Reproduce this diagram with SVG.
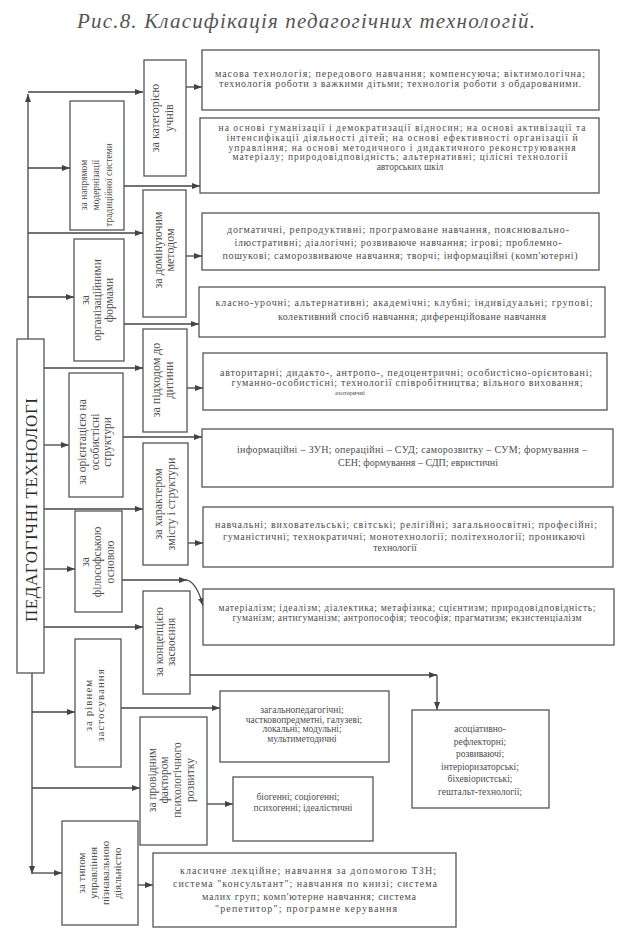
<svg xmlns="http://www.w3.org/2000/svg" width="625" height="935" viewBox="0 0 625 935">
<defs>
<marker id="ah" markerWidth="8" markerHeight="6" refX="8" refY="3" orient="auto" markerUnits="userSpaceOnUse"><path d="M0,0 L8,3 L0,6 z" fill="#444"/></marker>
<style>
.box{fill:#fff;stroke:#555;stroke-width:1.3}
.t{font-family:"Liberation Serif","Times New Roman",serif;fill:#4d4d4d;font-size:10px;text-anchor:middle}
.s{font-size:9.5px}
.v{font-family:"Liberation Serif","Times New Roman",serif;fill:#4d4d4d;font-size:11.5px;text-anchor:middle}
.c{fill:none;stroke:#444;stroke-width:1.3;marker-end:url(#ah)}
.title{font-family:"Liberation Serif","Times New Roman",serif;font-style:italic;fill:#555;font-size:21px}
</style>
</defs>
<rect width="625" height="935" fill="#fff"/>
<text class="title" x="77" y="28" textLength="458">Рис.8. Класифікація педагогічних технологій.</text>

<g id="connectors">
<path class="c" d="M28,339 V94"/>
<path class="c" d="M28,92 H143"/>
<path class="c" d="M28,168 H70"/>
<path class="c" d="M28,233 H143"/>
<path class="c" d="M28,297 H74"/>
<path class="c" d="M44,368 H143"/>
<path class="c" d="M44,445 H69"/>
<path class="c" d="M44,509 H143"/>
<path class="c" d="M44,569 H75"/>
<path class="c" d="M44,627 H143"/>
<path class="c" d="M32,673 V874"/>
<path class="c" d="M32,873 H62"/>
<path class="c" d="M32,712 H75"/>
<path class="c" d="M32,788 H140"/>
<path class="c" d="M186,87 H202"/>
<path class="c" d="M124,186 H200"/>
<path class="c" d="M186,256 H202"/>
<path class="c" d="M124,324 H199"/>
<path class="c" d="M187,388 H203"/>
<path class="c" d="M123,437 H202"/>
<path class="c" d="M188,543 H203"/>
<path class="c" d="M122,580 H187"/>
<path class="c" d="M187,580 Q197,583 203,606"/>
<path class="c" d="M190,675 H437"/>
<path class="c" d="M437,675 V710"/>
<path class="c" d="M121,708 H220"/>
<path class="c" d="M207,804 H233"/>
<path class="c" d="M138,885 H153"/>
</g>

<g id="root">
<rect class="box" x="17" y="339" width="27" height="334"/>
<text class="v" transform="translate(37,510) rotate(-90)" style="font-size:17px;fill:#2a2a2a" textLength="224">ПЕДАГОГІЧНІ ТЕХНОЛОГІ</text>
</g>

<g id="cat-uchniv">
<rect class="box" x="144" y="60" width="42" height="116"/>
<text class="v" transform="translate(159,118) rotate(-90)" style="font-size:12px">за категорією</text>
<text class="v" transform="translate(173,118) rotate(-90)" style="font-size:12px">учнів</text>
</g>
<g id="cat-napryam">
<rect class="box" x="70" y="101" width="54" height="129"/>
<text class="v" transform="translate(87,185) rotate(-90)" style="font-size:9.5px">за напрямом</text>
<text class="v" transform="translate(99,185) rotate(-90)" style="font-size:9.5px">модернізації</text>
<text class="v" transform="translate(112,185) rotate(-90)" style="font-size:9.5px">традиційної системи</text>
</g>
<g id="cat-metod">
<rect class="box" x="143" y="190" width="43" height="127"/>
<text class="v" transform="translate(162,250) rotate(-90)" style="font-size:12px">за домінуючим</text>
<text class="v" transform="translate(174,250) rotate(-90)" style="font-size:12px">методом</text>
</g>
<g id="cat-formy">
<rect class="box" x="74" y="239" width="50" height="122"/>
<text class="v" transform="translate(89,300) rotate(-90)">за</text>
<text class="v" transform="translate(101,300) rotate(-90)">організаційними</text>
<text class="v" transform="translate(113,300) rotate(-90)">формами</text>
</g>
<g id="cat-pidhid">
<rect class="box" x="143" y="329" width="44" height="103"/>
<text class="v" transform="translate(160,380) rotate(-90)" style="font-size:12px">за підходом до</text>
<text class="v" transform="translate(172.5,380) rotate(-90)" style="font-size:12px">дитини</text>
</g>
<g id="cat-oriient">
<rect class="box" x="69" y="373" width="54" height="124"/>
<text class="v" transform="translate(86,442) rotate(-90)">за орієнтацією на</text>
<text class="v" transform="translate(98.5,442) rotate(-90)">особистісні</text>
<text class="v" transform="translate(111,442) rotate(-90)">структури</text>
</g>
<g id="cat-zmist">
<rect class="box" x="143" y="443" width="45" height="122"/>
<text class="v" transform="translate(162,504) rotate(-90)" style="font-size:12px">за характером</text>
<text class="v" transform="translate(174.5,504) rotate(-90)" style="font-size:12px">змісту і структури</text>
</g>
<g id="cat-filos">
<rect class="box" x="75" y="511" width="47" height="101"/>
<text class="v" transform="translate(88.5,562) rotate(-90)">за</text>
<text class="v" transform="translate(101,562) rotate(-90)">філософською</text>
<text class="v" transform="translate(113.5,562) rotate(-90)">основою</text>
</g>
<g id="cat-koncep">
<rect class="box" x="143" y="591" width="47" height="103"/>
<text class="v" transform="translate(162.5,642) rotate(-90)">за концепцією</text>
<text class="v" transform="translate(175,642) rotate(-90)">засвоєння</text>
</g>
<g id="cat-riven">
<rect class="box" x="75" y="639" width="46" height="128"/>
<text class="v" transform="translate(91.5,705) rotate(-90)" style="font-size:11px;letter-spacing:1px">за рівнем</text>
<text class="v" transform="translate(104,705) rotate(-90)" style="font-size:11px;letter-spacing:1px">застосування</text>
</g>
<g id="cat-faktor">
<rect class="box" x="140" y="717" width="67" height="128"/>
<text class="v" transform="translate(155.5,780) rotate(-90)">за провідним</text>
<text class="v" transform="translate(167.5,780) rotate(-90)">фактором</text>
<text class="v" transform="translate(180.5,780) rotate(-90)">психологічного</text>
<text class="v" transform="translate(194,780) rotate(-90)">розвитку</text>
</g>
<g id="cat-upravl">
<rect class="box" x="62" y="821" width="76" height="104"/>
<text class="v" transform="translate(84.5,873) rotate(-90)" style="font-size:11px">за типом</text>
<text class="v" transform="translate(96.5,873) rotate(-90)" style="font-size:11px">управління</text>
<text class="v" transform="translate(108.5,873) rotate(-90)" style="font-size:11px">пізнавальною</text>
<text class="v" transform="translate(120.5,873) rotate(-90)" style="font-size:11px">діяльністю</text>
</g>

<g id="det-uchniv">
<rect class="box" x="202" y="50" width="397" height="60"/>
<text class="t" x="400" y="77" textLength="370">масова технологія; передового навчання; компенсуюча; віктимологічна;</text>
<text class="t" x="400" y="87" textLength="362">технологія роботи з важкими дітьми; технологія роботи з обдарованими.</text>
</g>
<g id="det-napryam">
<rect class="box" x="200" y="118" width="399" height="75"/>
<text class="t s" x="402" y="131" textLength="367">на основі гуманізації і демократизації відносин; на основі активізації та</text>
<text class="t s" x="402" y="140.75" textLength="351">інтенсифікації діяльності дітей; на основі ефективності організації й</text>
<text class="t s" x="402" y="150.5" textLength="347">управління; на основі методичного і дидактичного реконструювання</text>
<text class="t s" x="400" y="160.25" textLength="335">матеріалу; природовідповідність; альтернативні; цілісні технології</text>
<text class="t s" x="410" y="170">авторських шкіл</text>
</g>
<g id="det-metod">
<rect class="box" x="202" y="213" width="397" height="57"/>
<text class="t" x="398" y="233" textLength="342">догматичні, репродуктивні; програмоване навчання, пояснювально-</text>
<text class="t" x="398" y="246" textLength="327">ілюстративні; діалогічні; розвиваюче навчання; ігрові; проблемно-</text>
<text class="t" x="400" y="259" textLength="355">пошукові; саморозвиваюче навчання; творчі; інформаційні (комп'ютерні)</text>
</g>
<g id="det-formy">
<rect class="box" x="199" y="287" width="406" height="50"/>
<text class="t" x="404" y="306" textLength="377">класно-урочні; альтернативні; академічні; клубні; індивідуальні; групові;</text>
<text class="t" x="412" y="320" textLength="268">колективний спосіб навчання; диференційоване навчання</text>
</g>
<g id="det-pidhid">
<rect class="box" x="203" y="353" width="404" height="57"/>
<text class="t" x="406" y="376" textLength="372">авторитарні; дидакто-, антропо-, педоцентричні; особистісно-орієнтовані;</text>
<text class="t" x="407" y="386" textLength="351">гуманно-особистісні; технології співробітництва; вільного виховання;</text>
<text class="t" x="350" y="395" style="font-size:6.5px">езотеричні</text>
</g>
<g id="det-oriient">
<rect class="box" x="202" y="429" width="411" height="58"/>
<text class="t" x="412" y="453" textLength="350">інформаційні – ЗУН; операційні – СУД; саморозвитку – СУМ; формування –</text>
<text class="t" x="418" y="466" textLength="160">СЕН; формування – СДП; евристичні</text>
</g>
<g id="det-zmist">
<rect class="box" x="203" y="507" width="410" height="60"/>
<text class="t" x="406" y="528" textLength="382">навчальні; виховательські; світські; релігійні; загальноосвітні; професійні;</text>
<text class="t" x="404" y="540" textLength="362">гуманістичні; технократичні; монотехнології; політехнології; проникаючі</text>
<text class="t" x="395" y="551">технології</text>
</g>
<g id="det-filos">
<rect class="box" x="203" y="589" width="411" height="56"/>
<text class="t s" x="407" y="611" textLength="377">матеріалізм; ідеалізм; діалектика; метафізика; сцієнтизм; природовідповідність;</text>
<text class="t s" x="407" y="621" textLength="349">гуманізм; антигуманізм; антропософія; теософія; прагматизм; екзистенціалізм</text>
</g>
<g id="det-koncep">
<rect class="box" x="412" y="710" width="137" height="98"/>
<text class="t s" x="480" y="732">асоціативно-</text>
<text class="t s" x="480" y="744.5">рефлекторні;</text>
<text class="t s" x="480" y="757">розвиваючі;</text>
<text class="t s" x="480" y="769.5">інтеріоризаторські;</text>
<text class="t s" x="480" y="782">біхевіористські;</text>
<text class="t s" x="480" y="794.5">гештальт-технології;</text>
</g>
<g id="det-riven">
<rect class="box" x="220" y="691" width="169" height="71"/>
<text class="t s" x="302" y="713">загальнопедагогічні;</text>
<text class="t s" x="304" y="722.5">частковопредметні, галузеві;</text>
<text class="t s" x="302" y="732">локальні; модульні;</text>
<text class="t s" x="302" y="741.5">мультиметодичні</text>
</g>
<g id="det-faktor">
<rect class="box" x="233" y="777" width="140" height="64"/>
<text class="t s" x="298" y="800">біогенні; соціогенні;</text>
<text class="t s" x="303" y="811">психогенні; ідеалістичні</text>
</g>
<g id="det-upravl">
<rect class="box" x="153" y="853" width="303" height="74"/>
<text class="t" x="308" y="874" textLength="256">класичне лекційне; навчання за допомогою ТЗН;</text>
<text class="t" x="305" y="887" textLength="264">система "консультант"; навчання по книзі; система</text>
<text class="t" x="309" y="900" textLength="214">малих груп; комп'ютерне навчання; система</text>
<text class="t" x="306" y="912" textLength="182">"репетитор"; програмне керування</text>
</g>
</svg>
